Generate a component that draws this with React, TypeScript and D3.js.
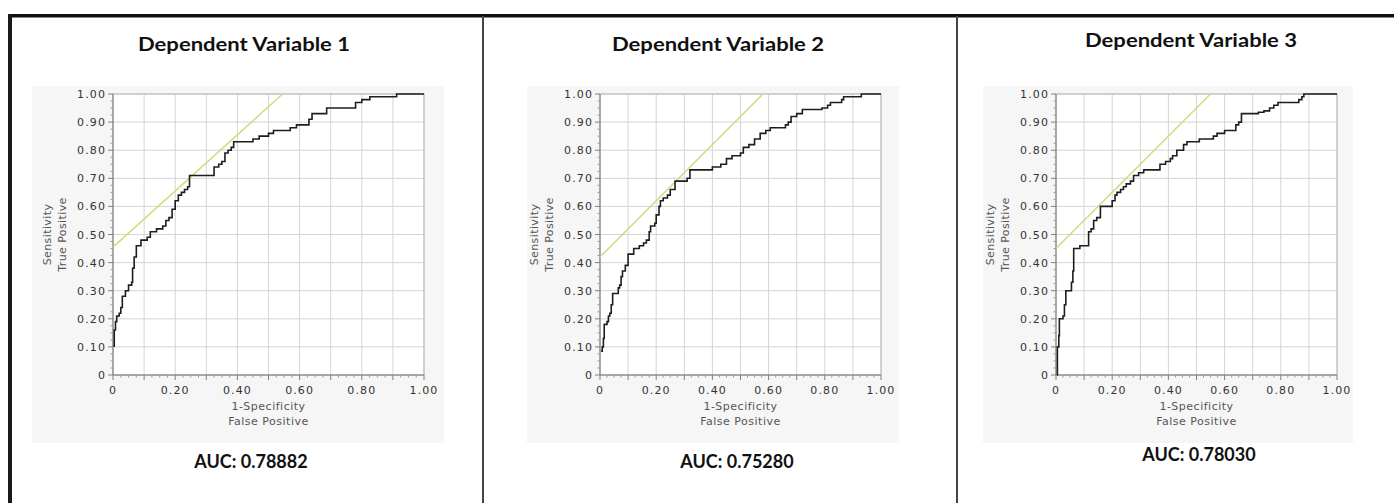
import React from "react";
import * as d3 from "d3";

const titles = ["Dependent Variable 1", "Dependent Variable 2", "Dependent Variable 3"];
const aucLabels = ["AUC: 0.78882", "AUC: 0.75280", "AUC: 0.78030"];
const yTickValues = [0, 0.1, 0.2, 0.3, 0.4, 0.5, 0.6, 0.7, 0.8, 0.9, 1.0];
const yTickLabels = ["0", "0.10", "0.20", "0.30", "0.40", "0.50", "0.60", "0.70", "0.80", "0.90", "1.00"];
const xTickValues = [0, 0.2, 0.4, 0.6, 0.8, 1.0];
const xTickLabels = ["0", "0.20", "0.40", "0.60", "0.80", "1.00"];
const xAxisTitle = ["1-Specificity", "False Positive"];
const yAxisTitle = ["Sensitivity", "True Positive"];

// reference (iso-AUC tangent) line: intercept, slope 1
const refIntercepts = [0.455, 0.42, 0.45];

const roc1: [number, number][] = [
  [0.004, 0.10], [0.004, 0.16], [0.008, 0.19], [0.012, 0.21], [0.02, 0.22], [0.025, 0.24], [0.03, 0.28],
  [0.04, 0.30], [0.05, 0.32], [0.06, 0.33], [0.063, 0.38], [0.068, 0.42], [0.075, 0.46], [0.09, 0.48],
  [0.11, 0.49], [0.12, 0.51], [0.14, 0.52], [0.16, 0.53], [0.17, 0.55], [0.18, 0.56], [0.19, 0.59],
  [0.2, 0.62], [0.21, 0.64], [0.22, 0.65], [0.23, 0.66], [0.24, 0.67], [0.246, 0.71], [0.321, 0.71],
  [0.325, 0.74], [0.34, 0.75], [0.35, 0.76], [0.36, 0.79], [0.37, 0.80], [0.38, 0.81], [0.388, 0.83],
  [0.44, 0.83], [0.45, 0.84], [0.47, 0.85], [0.5, 0.86], [0.516, 0.87], [0.57, 0.88], [0.59, 0.89],
  [0.62, 0.89], [0.63, 0.91], [0.64, 0.93], [0.68, 0.93], [0.687, 0.95], [0.768, 0.95], [0.78, 0.97],
  [0.8, 0.98], [0.826, 0.99], [0.912, 0.99], [0.912, 1.0], [1.0, 1.0],
];

const roc2: [number, number][] = [
  [0.004, 0.085], [0.008, 0.10], [0.012, 0.13], [0.015, 0.18], [0.025, 0.19], [0.03, 0.21], [0.035, 0.22],
  [0.04, 0.25], [0.045, 0.29], [0.06, 0.29], [0.065, 0.31], [0.07, 0.32], [0.075, 0.35], [0.08, 0.37],
  [0.09, 0.39], [0.1, 0.43], [0.112, 0.43], [0.12, 0.45], [0.14, 0.46], [0.155, 0.47], [0.165, 0.48],
  [0.175, 0.51], [0.18, 0.53], [0.195, 0.54], [0.2, 0.57], [0.21, 0.60], [0.215, 0.62], [0.225, 0.63],
  [0.24, 0.64], [0.25, 0.66], [0.267, 0.69], [0.305, 0.69], [0.31, 0.70], [0.32, 0.73], [0.38, 0.73],
  [0.40, 0.74], [0.43, 0.75], [0.45, 0.77], [0.47, 0.78], [0.5, 0.79], [0.51, 0.81], [0.53, 0.82],
  [0.55, 0.84], [0.57, 0.86], [0.59, 0.87], [0.606, 0.88], [0.641, 0.88], [0.66, 0.89], [0.67, 0.90],
  [0.68, 0.92], [0.70, 0.93], [0.72, 0.945], [0.77, 0.945], [0.79, 0.95], [0.81, 0.96], [0.82, 0.97],
  [0.845, 0.97], [0.86, 0.98], [0.867, 0.99], [0.926, 0.99], [0.93, 1.0], [1.0, 1.0],
];

const roc3: [number, number][] = [
  [0.004, 0.0], [0.005, 0.10], [0.01, 0.14], [0.012, 0.20], [0.025, 0.21], [0.03, 0.25], [0.035, 0.30],
  [0.05, 0.30], [0.055, 0.33], [0.06, 0.37], [0.063, 0.45], [0.08, 0.45], [0.085, 0.46], [0.104, 0.46],
  [0.116, 0.51], [0.125, 0.52], [0.134, 0.55], [0.145, 0.56], [0.158, 0.60], [0.187, 0.60], [0.2, 0.62],
  [0.21, 0.64], [0.217, 0.65], [0.23, 0.66], [0.24, 0.67], [0.25, 0.68], [0.265, 0.69], [0.276, 0.71],
  [0.294, 0.72], [0.312, 0.73], [0.36, 0.73], [0.37, 0.75], [0.39, 0.76], [0.407, 0.77], [0.415, 0.78],
  [0.43, 0.80], [0.454, 0.82], [0.466, 0.83], [0.5, 0.83], [0.51, 0.84], [0.55, 0.84], [0.56, 0.85],
  [0.573, 0.86], [0.6, 0.87], [0.63, 0.87], [0.64, 0.89], [0.65, 0.90], [0.66, 0.93], [0.70, 0.93],
  [0.72, 0.935], [0.74, 0.94], [0.76, 0.95], [0.775, 0.96], [0.79, 0.97], [0.846, 0.97], [0.864, 0.98],
  [0.875, 0.99], [0.882, 1.0], [1.0, 1.0],
];

const rocs = [roc1, roc2, roc3];

// layout per panel (pixels)
const panelLayout = [
  { bgX0: 32, bgX1: 444, px0: 113, px1: 424, titleX: 244, titleY: 51, aucX: 251, aucY: 468 },
  { bgX0: 527, bgX1: 899, px0: 600, px1: 881, titleX: 718, titleY: 51, aucX: 737, aucY: 468 },
  { bgX0: 983, bgX1: 1353, px0: 1056, px1: 1337, titleX: 1191, titleY: 47, aucX: 1199, aucY: 461 },
];
const PY0 = 375;
const PY1 = 94;
const BG_Y0 = 86;
const BG_Y1 = 443;

const tickFont = "'DejaVu Sans', sans-serif";

function Panel({ i }: { i: number }) {
  const L = panelLayout[i];
  const x = d3.scaleLinear().domain([0, 1]).range([L.px0, L.px1]);
  const y = d3.scaleLinear().domain([0, 1]).range([PY0, PY1]);
  const grid = d3.range(0, 1.0001, 0.1);
  const minor = d3.range(0, 1.0001, 0.025).filter((v) => Math.abs(v * 10 - Math.round(v * 10)) > 1e-6);
  const line = d3
    .line<[number, number]>()
    .x((d) => x(d[0]))
    .y((d) => y(d[1]))
    .curve(d3.curveStepAfter);
  const b = refIntercepts[i];
  const refPts: [number, number][] = [
    [0, b],
    [1 - b, 1],
  ];
  const refLine = d3
    .line<[number, number]>()
    .x((d) => x(d[0]))
    .y((d) => y(d[1]));
  const cx = (L.px0 + L.px1) / 2;
  const cy = (PY0 + PY1) / 2;
  return (
    <g>
      <text
        x={L.titleX}
        y={L.titleY}
        textAnchor="middle"
        fontFamily="Lato, 'Open Sans', sans-serif"
        fontWeight={700}
        fontSize={19.5}
        textLength={212}
        lengthAdjust="spacingAndGlyphs"
        fill="#111"
      >
        {titles[i]}
      </text>
      <rect x={L.bgX0} y={BG_Y0} width={L.bgX1 - L.bgX0} height={BG_Y1 - BG_Y0} fill="#f6f6f6" />
      <rect x={L.px0} y={PY1} width={L.px1 - L.px0} height={PY0 - PY1} fill="#ffffff" />
      {grid.map((v, k) => (
        <line key={"gx" + k} x1={x(v)} x2={x(v)} y1={PY1} y2={PY0} stroke="#d4d4d4" strokeWidth={1} />
      ))}
      {grid.map((v, k) => (
        <line key={"gy" + k} x1={L.px0} x2={L.px1} y1={y(v)} y2={y(v)} stroke="#d4d4d4" strokeWidth={1} />
      ))}
      <rect
        x={L.px0}
        y={PY1}
        width={L.px1 - L.px0}
        height={PY0 - PY1}
        fill="none"
        stroke="#b8b8b8"
        strokeWidth={1}
      />
      {/* axes */}
      <line x1={L.px0} x2={L.px0} y1={PY1} y2={PY0} stroke="#808080" strokeWidth={1} />
      <line x1={L.px0} x2={L.px1} y1={PY0} y2={PY0} stroke="#808080" strokeWidth={1} />
      {grid.map((v, k) => (
        <line key={"ty" + k} x1={L.px0 - 5} x2={L.px0} y1={y(v)} y2={y(v)} stroke="#808080" />
      ))}
      {minor.map((v, k) => (
        <line key={"my" + k} x1={L.px0 - 2.5} x2={L.px0} y1={y(v)} y2={y(v)} stroke="#9a9a9a" />
      ))}
      {grid.map((v, k) => (
        <line key={"tx" + k} x1={x(v)} x2={x(v)} y1={PY0} y2={PY0 + 5} stroke="#808080" />
      ))}
      {minor.map((v, k) => (
        <line key={"mx" + k} x1={x(v)} x2={x(v)} y1={PY0} y2={PY0 + 2.5} stroke="#9a9a9a" />
      ))}
      {yTickValues.map((v, k) => (
        <text
          key={"yl" + k}
          x={L.px0 - 7}
          y={y(v) + 4}
          textAnchor="end"
          fontFamily={tickFont}
          fontSize={11}
          letterSpacing={1.1}
          fill="#333"
        >
          {yTickLabels[k]}
        </text>
      ))}
      {xTickValues.map((v, k) => (
        <text
          key={"xl" + k}
          x={x(v)}
          y={PY0 + 19}
          textAnchor="middle"
          fontFamily={tickFont}
          fontSize={11}
          letterSpacing={1.1}
          fill="#333"
        >
          {xTickLabels[k]}
        </text>
      ))}
      <text x={cx} y={PY0 + 35} textAnchor="middle" fontFamily={tickFont} fontSize={11} letterSpacing={0.5} fill="#555">
        {xAxisTitle[0]}
      </text>
      <text x={cx} y={PY0 + 50} textAnchor="middle" fontFamily={tickFont} fontSize={11} letterSpacing={0.5} fill="#555">
        {xAxisTitle[1]}
      </text>
      <text
        transform={`translate(${L.px0 - 62},${cy}) rotate(-90)`}
        textAnchor="middle"
        fontFamily={tickFont}
        fontSize={11}
        letterSpacing={0.4}
        fill="#555"
      >
        {yAxisTitle[0]}
      </text>
      <text
        transform={`translate(${L.px0 - 47},${cy}) rotate(-90)`}
        textAnchor="middle"
        fontFamily={tickFont}
        fontSize={11}
        letterSpacing={0.4}
        fill="#555"
      >
        {yAxisTitle[1]}
      </text>
      <path d={refLine(refPts) || ""} fill="none" stroke="#d6d97a" strokeWidth={1.5} />
      <path d={line(rocs[i]) || ""} fill="none" stroke="#1e1e1e" strokeWidth={1.6} />
      <text
        x={L.aucX}
        y={L.aucY}
        textAnchor="middle"
        fontFamily="Lato, 'Open Sans', sans-serif"
        fontWeight={700}
        fontSize={18}
        fill="#111"
      >
        {aucLabels[i]}
      </text>
    </g>
  );
}

export default function App() {
  return (
    <svg
      width={1394}
      height={503}
      style={{ position: "absolute", left: 0, top: 0, background: "#fff" }}
    >
      <rect x={0} y={0} width={1394} height={503} fill="#fff" />
      {[0, 1, 2].map((i) => (
        <Panel key={i} i={i} />
      ))}
      <rect x={8} y={14} width={1386} height={3.5} fill="#111" />
      <rect x={8} y={14} width={4} height={489} fill="#1a1a1a" />
      <rect x={482} y={16} width={2} height={487} fill="#444" />
      <rect x={956} y={16} width={2} height={487} fill="#444" />
    </svg>
  );
}
